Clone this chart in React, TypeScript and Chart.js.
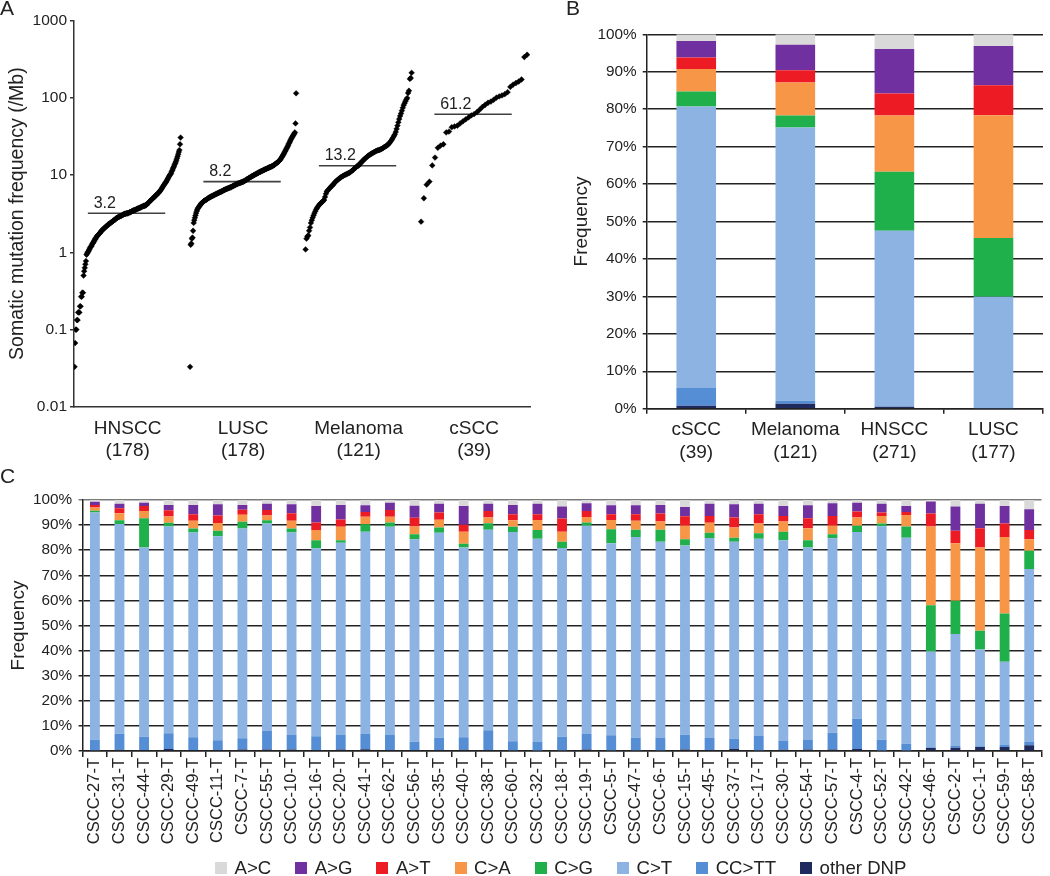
import React, { useEffect, useRef } from "react";
import { Chart, registerables } from "chart.js";

Chart.register(...registerables);

const FONT = '"Liberation Sans", Arial, Helvetica, sans-serif';
Chart.defaults.font.family = FONT;
Chart.defaults.color = "#222";

// ---------------- Panel A data ----------------
const GROUPS_A = ["HNSCC", "LUSC", "Melanoma", "cSCC"];
const COUNTS_A = ["(178)", "(178)", "(121)", "(39)"];
const MEDIANS_A = [3.2, 8.2, 13.2, 61.2];
const Y_TICKS_A = [0.01, 0.1, 1, 10, 100, 1000];

const HNSCC_FREQ = [
  0.033, 0.067, 0.1, 0.1, 0.133, 0.133, 0.167, 0.167, 0.167, 0.2,
  0.2, 0.267, 0.267, 0.3, 0.3, 0.5, 0.57, 0.63, 0.7, 0.77,
  0.93, 0.97, 1.0, 1.03, 1.07, 1.1, 1.15, 1.18, 1.2, 1.25,
  1.3, 1.33, 1.37, 1.42, 1.47, 1.5, 1.55, 1.6, 1.63, 1.67,
  1.7, 1.73, 1.77, 1.8, 1.85, 1.9, 1.93, 1.97, 2.0, 2.03,
  2.07, 2.1, 2.13, 2.17, 2.2, 2.25, 2.28, 2.3, 2.33, 2.37,
  2.4, 2.43, 2.47, 2.5, 2.53, 2.57, 2.6, 2.63, 2.67, 2.73,
  2.77, 2.8, 2.83, 2.85, 2.87, 2.9, 2.93, 2.95, 2.97, 3.0,
  3.03, 3.07, 3.1, 3.13, 3.13, 3.17, 3.17, 3.2, 3.2, 3.2,
  3.23, 3.27, 3.3, 3.3, 3.33, 3.37, 3.4, 3.43, 3.47, 3.5,
  3.5, 3.53, 3.57, 3.6, 3.63, 3.67, 3.7, 3.7, 3.73, 3.77,
  3.8, 3.83, 3.87, 3.9, 3.93, 3.97, 4.0, 4.0, 4.03, 4.07,
  4.1, 4.2, 4.27, 4.37, 4.43, 4.5, 4.6, 4.67, 4.77, 4.83,
  4.93, 5.0, 5.1, 5.17, 5.27, 5.37, 5.47, 5.57, 5.67, 5.77,
  5.87, 5.97, 6.1, 6.27, 6.43, 6.6, 6.8, 7.0, 7.2, 7.4,
  7.6, 7.8, 8.0, 8.2, 8.5, 8.8, 9.1, 9.4, 9.7, 10.0,
  10.2, 10.5, 11.0, 11.5, 12.0, 12.5, 13.0, 13.6, 14.2, 14.8,
  15.6, 16.5, 17.5, 18.6, 19.8, 21.0, 25.0, 30.5,
];

const LUSC_FREQ = [
  0.033, 1.25, 1.3, 1.5, 1.55, 1.9, 2.4, 2.6, 2.8, 3.0,
  3.2, 3.4, 3.55, 3.7, 3.8, 3.9, 4.0, 4.1, 4.2, 4.3,
  4.4, 4.45, 4.5, 4.6, 4.65, 4.7, 4.75, 4.8, 4.85, 4.9,
  5.0, 5.05, 5.1, 5.15, 5.2, 5.25, 5.3, 5.35, 5.4, 5.45,
  5.5, 5.55, 5.6, 5.65, 5.7, 5.75, 5.8, 5.85, 5.9, 5.95,
  6.0, 6.05, 6.1, 6.15, 6.2, 6.3, 6.35, 6.4, 6.45, 6.5,
  6.55, 6.6, 6.65, 6.7, 6.75, 6.8, 6.85, 6.9, 6.95, 7.0,
  7.1, 7.15, 7.2, 7.3, 7.35, 7.4, 7.5, 7.55, 7.6, 7.7,
  7.75, 7.8, 7.85, 7.9, 7.95, 8.0, 8.05, 8.1, 8.2, 8.2,
  8.3, 8.4, 8.5, 8.6, 8.7, 8.8, 8.9, 9.0, 9.1, 9.2,
  9.3, 9.4, 9.5, 9.6, 9.7, 9.8, 9.9, 10.0, 10.1, 10.2,
  10.3, 10.4, 10.5, 10.6, 10.7, 10.8, 10.9, 11.0, 11.1, 11.2,
  11.3, 11.4, 11.5, 11.6, 11.7, 11.8, 11.9, 12.0, 12.1, 12.2,
  12.3, 12.4, 12.5, 12.6, 12.7, 12.8, 12.9, 13.0, 13.1, 13.3,
  13.4, 13.6, 13.8, 14.0, 14.2, 14.4, 14.6, 14.8, 15.0, 15.3,
  15.6, 16.0, 16.5, 17.0, 17.5, 18.0, 18.6, 19.2, 19.8, 20.5,
  21.2, 22.0, 22.8, 23.6, 24.5, 25.5, 26.5, 27.5, 28.5, 29.5,
  30.5, 31.5, 32.5, 33.5, 34.5, 35.5, 46.5, 114,
];

const MELANOMA_FREQ = [
  1.09, 1.5, 1.6, 1.65, 1.9, 2.1, 2.4, 2.6, 2.8, 3.0,
  3.2, 3.4, 3.6, 3.75, 3.9, 4.05, 4.2, 4.3, 4.4, 4.5,
  4.65, 4.75, 5.2, 5.7, 6.1, 6.3, 6.5, 6.7, 6.9, 7.1,
  7.3, 7.45, 7.7, 8.0, 8.2, 8.4, 8.6, 8.8, 9.0, 9.2,
  9.35, 9.5, 9.65, 9.8, 9.95, 10.1, 10.2, 10.35, 10.5, 10.6,
  10.75, 11.0, 11.2, 11.5, 11.7, 12.0, 12.3, 12.6, 12.9, 13.1,
  13.2, 13.8, 14.2, 14.6, 15.0, 15.4, 15.8, 16.2, 16.6, 17.0,
  17.4, 17.8, 18.1, 18.4, 18.7, 19.0, 19.3, 19.6, 19.9, 20.2,
  20.5, 20.7, 20.9, 21.0, 21.2, 21.5, 21.8, 22.1, 22.5, 22.9,
  23.3, 23.7, 24.1, 24.5, 25.2, 26.0, 27.0, 28.0, 29.2, 30.5,
  32.0, 33.5, 36.0, 39.5, 43.5, 48.0, 53.0, 58.0, 62.5, 68.0,
  74.0, 80.0, 85.0, 90.0, 95.0, 99.0, 115, 123, 175, 180,
  210,
];

const CSCC_FREQ = [
  2.49, 5.0, 7.5, 8.2, 13.3, 16.8, 22.5, 24.0, 25.0, 35.5,
  36.5, 41.5, 42.5, 43.5, 46.5, 49.5, 52.5, 55.5, 59.0, 61.2,
  65.0, 70.0, 76.0, 81.0, 86.0, 89.0, 94.0, 100, 104, 107,
  111, 118, 138, 148, 155, 162, 172, 335, 360,
];

// ---------------- Mutation classes ----------------
const CLASS_NAMES = ["A>C", "A>G", "A>T", "C>A", "C>G", "C>T", "CC>TT", "other DNP"];
const CLASS_COLORS = ["#d9d9d9", "#7030a0", "#ed1c24", "#f79646", "#1fb04c", "#8db3e2", "#558ed5", "#1f2a5e"];

// ---------------- Panel B data ----------------
const CATS_B = ["cSCC", "Melanoma", "HNSCC", "LUSC"];
const COUNTS_B = ["(39)", "(121)", "(271)", "(177)"];
const B_AC = [1.8, 2.8, 3.9, 3.1];
const B_AG = [4.4, 6.8, 11.9, 10.5];
const B_AT = [3.1, 3.3, 5.9, 8.0];
const B_CA = [6.0, 8.8, 15.0, 32.8];
const B_CG = [4.0, 3.2, 15.8, 15.7];
const B_CT = [75.2, 73.0, 46.9, 29.7];
const B_CCTT = [4.7, 0.8, 0.1, 0.1];
const B_DNP = [0.8, 1.3, 0.5, 0.1];

// ---------------- Panel C data ----------------
const SAMPLES_C = [
  "CSCC-27-T", "CSCC-31-T", "CSCC-44-T", "CSCC-29-T", "CSCC-49-T", "CSCC-11-T", "CSCC-7-T", "CSCC-55-T",
  "CSCC-10-T", "CSCC-16-T", "CSCC-20-T", "CSCC-41-T", "CSCC-62-T", "CSCC-56-T", "CSCC-35-T", "CSCC-40-T",
  "CSCC-38-T", "CSCC-60-T", "CSCC-32-T", "CSCC-18-T", "CSCC-19-T", "CSCC-5-T", "CSCC-47-T", "CSCC-6-T",
  "CSCC-15-T", "CSCC-45-T", "CSCC-37-T", "CSCC-17-T", "CSCC-30-T", "CSCC-54-T", "CSCC-57-T", "CSCC-4-T",
  "CSCC-52-T", "CSCC-42-T", "CSCC-46-T", "CSCC-2-T", "CSCC-1-T", "CSCC-59-T", "CSCC-58-T",
];
const C_DNP = [0.3, 0.5, 0.4, 0.8, 0.4, 0.4, 0.6, 0.6, 0.6, 0.4, 0.6, 0.7, 0.4, 0.4, 0.4, 0.5, 0.4, 0.3, 0.2, 0.3, 0.6, 0.3, 0.3, 0.3, 0.6, 0.4, 0.9, 0.3, 0.5, 0.6, 0.6, 0.8, 0.2, 0.2, 1.2, 1.3, 1.6, 1.6, 2.3];
const C_CCTT = [4.2, 6.4, 5.3, 6.3, 5.1, 3.9, 4.5, 7.4, 5.8, 5.5, 5.8, 6.3, 6.0, 3.3, 4.9, 5.0, 7.9, 3.6, 3.4, 5.4, 6.2, 6.0, 5.0, 4.9, 5.9, 4.8, 4.0, 5.9, 3.7, 4.0, 6.7, 12.0, 4.3, 2.7, 0.3, 0.7, 0.3, 1.0, 1.3];
const C_CT = [90.5, 83.5, 75.4, 82.3, 81.6, 81.3, 83.5, 82.6, 80.7, 74.9, 76.6, 80.4, 82.9, 80.7, 81.7, 75.6, 79.8, 83.4, 81.0, 75.2, 82.9, 76.5, 80.0, 78.2, 75.4, 79.7, 78.5, 78.4, 79.8, 76.5, 77.5, 74.5, 85.0, 82.1, 38.1, 44.6, 38.5, 33.0, 68.9];
const C_CG = [0.7, 1.5, 11.6, 1.5, 1.5, 2.1, 2.7, 1.3, 1.5, 3.2, 1.0, 2.9, 1.7, 2.0, 2.0, 1.5, 2.6, 2.0, 3.4, 2.5, 1.3, 5.5, 2.8, 4.7, 2.5, 2.1, 1.6, 2.2, 3.4, 2.9, 1.6, 2.4, 1.1, 4.4, 18.5, 13.3, 7.5, 19.2, 7.3];
const C_CA = [1.3, 2.8, 2.9, 2.5, 3.1, 3.1, 2.8, 1.9, 3.1, 4.0, 5.3, 3.0, 2.3, 3.0, 3.1, 4.8, 2.3, 2.6, 4.0, 4.0, 2.2, 3.7, 3.6, 3.3, 5.3, 3.9, 4.0, 3.8, 4.0, 4.7, 3.3, 3.3, 3.0, 4.6, 31.3, 22.9, 33.2, 30.5, 4.6];
const C_AT = [1.0, 2.0, 2.0, 2.5, 2.6, 3.0, 2.0, 2.2, 3.0, 3.0, 2.9, 1.9, 2.7, 3.5, 2.9, 2.7, 2.6, 2.4, 2.3, 5.2, 2.4, 2.3, 2.6, 3.2, 3.8, 2.7, 4.0, 3.7, 2.2, 4.0, 3.9, 2.4, 1.4, 1.2, 5.2, 4.9, 7.6, 5.3, 3.6];
const C_AG = [1.3, 1.8, 1.3, 2.1, 3.7, 4.5, 1.9, 2.5, 3.6, 6.6, 5.8, 2.7, 2.9, 4.8, 3.5, 7.5, 2.9, 3.7, 4.2, 4.8, 3.1, 3.6, 3.6, 3.4, 3.7, 4.9, 5.3, 4.2, 4.0, 5.2, 5.1, 3.5, 3.5, 2.4, 4.8, 9.7, 9.8, 7.0, 8.3];
const C_AC = [0.7, 1.5, 1.1, 2.0, 2.0, 1.7, 2.0, 1.5, 1.7, 2.4, 2.0, 2.1, 1.1, 2.3, 1.5, 2.4, 1.5, 2.0, 1.5, 2.6, 1.3, 2.1, 2.1, 2.0, 2.8, 1.5, 1.7, 1.5, 2.4, 2.1, 1.3, 1.1, 1.5, 2.4, 0.6, 2.6, 1.5, 2.4, 3.7];

// stacked bottom-to-top: other DNP, CC>TT, C>T, C>G, C>A, A>T, A>G, A>C
function stackDatasets(series: number[][]) {
  const idx = [7, 6, 5, 4, 3, 2, 1, 0];
  return idx.map((k) => ({
    label: CLASS_NAMES[k],
    data: series[k],
    backgroundColor: CLASS_COLORS[k],
    borderWidth: 0,
    barPercentage: 0.4,
    categoryPercentage: 1.0,
  }));
}

const GRID_DARK = "#222";

function makeA(): any {
  const series = [HNSCC_FREQ, LUSC_FREQ, MELANOMA_FREQ, CSCC_FREQ];
  const xOf = (g: number, i: number, n: number) => g + 0.005 + 0.918 * (i / (n - 1));
  const medianLabels = {
    id: "medianLabels",
    afterDatasetsDraw(chart: any) {
      const { ctx, scales } = chart;
      ctx.save();
      ctx.font = `16px ${FONT}`;
      ctx.fillStyle = "#222";
      ctx.textAlign = "left";
      ctx.textBaseline = "alphabetic";
      MEDIANS_A.forEach((m, g) => {
        ctx.fillText(String(m), scales.x.getPixelForValue(g + 0.17), scales.y.getPixelForValue(m) - 5.5);
      });
      ctx.restore();
    },
  };
  return {
    type: "scatter",
    data: {
      datasets: [
        ...series.map((vals, g) => ({
          label: GROUPS_A[g],
          data: vals.map((v, i) => ({ x: xOf(g, i, vals.length), y: v })),
          pointStyle: "rectRot",
          pointRadius: 2.9,
          pointBackgroundColor: "#000",
          pointBorderColor: "#000",
          pointBorderWidth: 0.4,
          showLine: false,
        })),
        ...MEDIANS_A.map((m, g) => ({
          type: "line",
          label: "median " + GROUPS_A[g],
          data: [
            { x: g + 0.12, y: m },
            { x: g + 0.79, y: m },
          ],
          borderColor: "#404040",
          borderWidth: 1.6,
          pointRadius: 0,
          showLine: true,
          fill: false,
        })),
      ],
    },
    options: {
      animation: false,
      responsive: false,
      devicePixelRatio: 1,
      layout: { padding: { left: 0, right: 10, top: 20.4, bottom: 0 } },
      plugins: { legend: { display: false }, tooltip: { enabled: false } },
      scales: {
        x: {
          type: "linear",
          min: 0,
          max: 3.948,
          afterBuildTicks: (axis: any) => {
            axis.ticks = GROUPS_A.map((_, g) => ({ value: g + 0.464 }));
          },
          afterFit: (s: any) => {
            s.height = 73.1;
          },
          ticks: {
            autoSkip: false,
            maxRotation: 0,
            padding: 10,
            font: { size: 19 },
            color: "#222",
            callback: (_v: any, i: number) => [GROUPS_A[i], COUNTS_A[i]],
          },
          grid: { display: false, drawTicks: false },
          border: { display: true, color: "#333", width: 1.5 },
        },
        y: {
          type: "logarithmic",
          min: 0.01,
          max: 1000,
          afterBuildTicks: (axis: any) => {
            axis.ticks = Y_TICKS_A.map((v) => ({ value: v }));
          },
          afterFit: (s: any) => {
            s.width = 74;
          },
          ticks: {
            padding: 3,
            font: { size: 15.5 },
            color: "#222",
            callback: (v: any) => String(v),
          },
          grid: { display: true, drawOnChartArea: false, drawTicks: true, tickLength: 4, color: "#333", lineWidth: 1.5 },
          border: { display: true, color: "#333", width: 1.5 },
          title: {
            display: true,
            text: "Somatic mutation frequency (/Mb)",
            font: { size: 19.5 },
            color: "#222",
            padding: { top: 5.5, bottom: 0 },
          },
        },
      },
    },
    plugins: [medianLabels],
  };
}

function makeB(): any {
  return {
    type: "bar",
    data: {
      labels: CATS_B.map((c, i) => [c, COUNTS_B[i]]),
      datasets: stackDatasets([B_AC, B_AG, B_AT, B_CA, B_CG, B_CT, B_CCTT, B_DNP]),
    },
    options: {
      animation: false,
      responsive: false,
      devicePixelRatio: 1,
      layout: { padding: { left: 0, right: 7, top: 34.3, bottom: 0 } },
      plugins: { legend: { display: false }, tooltip: { enabled: false } },
      scales: {
        x: {
          stacked: true,
          afterFit: (s: any) => {
            s.height = 71.3;
          },
          ticks: { maxRotation: 0, padding: 5, font: { size: 19 }, color: "#222" },
          grid: { display: true, drawOnChartArea: false, drawTicks: true, tickLength: 5, color: GRID_DARK, lineWidth: 1.5, offset: true },
          border: { display: true, color: GRID_DARK, width: 1.5 },
        },
        y: {
          stacked: true,
          min: 0,
          max: 100,
          afterFit: (s: any) => {
            s.width = 106.7;
          },
          ticks: { stepSize: 10, padding: 6, font: { size: 15.3 }, color: "#222", callback: (v: any) => v + "%" },
          grid: { color: GRID_DARK, lineWidth: 1.5, tickLength: 4, drawTicks: true },
          border: { display: true, color: GRID_DARK, width: 1.5 },
          title: { display: true, text: "Frequency", font: { size: 19 }, color: "#222", padding: { top: 30.3, bottom: 0 } },
        },
      },
    },
  };
}

function makeC(): any {
  return {
    type: "bar",
    data: {
      labels: SAMPLES_C,
      datasets: stackDatasets([C_AC, C_AG, C_AT, C_CA, C_CG, C_CT, C_CCTT, C_DNP]),
    },
    options: {
      animation: false,
      responsive: false,
      devicePixelRatio: 1,
      layout: { padding: { left: 0, right: 0.4, top: 20, bottom: 0 } },
      plugins: { legend: { display: false }, tooltip: { enabled: false } },
      scales: {
        x: {
          stacked: true,
          afterFit: (s: any) => {
            s.height = 125;
          },
          ticks: { autoSkip: false, maxRotation: 90, minRotation: 90, padding: 1, font: { size: 16.5 }, color: "#222" },
          grid: { display: true, drawOnChartArea: false, drawTicks: true, tickLength: 6, color: GRID_DARK, lineWidth: 1.5, offset: true },
          border: { display: true, color: GRID_DARK, width: 1.5 },
        },
        y: {
          stacked: true,
          min: 0,
          max: 100,
          afterFit: (s: any) => {
            s.width = 82.6;
          },
          ticks: { stepSize: 10, padding: 6.6, font: { size: 15.3 }, color: "#222", callback: (v: any) => v + "%" },
          grid: {
            color: (ctx: any) => (ctx.tick && ctx.tick.value === 100 ? "#7a7a7a" : GRID_DARK),
            lineWidth: 1.5,
            tickLength: 4,
            drawTicks: true,
          },
          border: { display: true, color: GRID_DARK, width: 1.5 },
          title: { display: true, text: "Frequency", font: { size: 19 }, color: "#222", padding: { top: 7.6, bottom: 0 } },
        },
      },
    },
  };
}

function ChartCanvas(props: { left: number; top: number; width: number; height: number; make: () => any }) {
  const ref = useRef<HTMLCanvasElement | null>(null);
  useEffect(() => {
    if (!ref.current) return;
    const chart = new Chart(ref.current, props.make());
    return () => chart.destroy();
  }, []);
  return (
    <canvas
      ref={ref}
      width={props.width}
      height={props.height}
      style={{ position: "absolute", left: props.left, top: props.top, width: props.width, height: props.height }}
    />
  );
}

function PanelLetter(props: { text: string; left: number; top: number }) {
  return (
    <div
      style={{
        position: "absolute",
        left: props.left,
        top: props.top,
        fontSize: 21,
        lineHeight: "21px",
        fontFamily: FONT,
        color: "#222",
      }}
    >
      {props.text}
    </div>
  );
}

function Legend() {
  return (
    <div
      style={{
        position: "absolute",
        left: 215,
        top: 857,
        height: 22,
        display: "flex",
        alignItems: "center",
        fontFamily: FONT,
        fontSize: 18.6,
        color: "#222",
        whiteSpace: "nowrap",
      }}
    >
      {CLASS_NAMES.map((n, i) => (
        <div key={n} style={{ display: "flex", alignItems: "center", marginRight: i < CLASS_NAMES.length - 1 ? 24 : 0 }}>
          <span style={{ display: "inline-block", width: 12, height: 12, background: CLASS_COLORS[i], marginRight: 7.5 }} />
          <span>{n}</span>
        </div>
      ))}
    </div>
  );
}

export default function App() {
  return (
    <div
      style={{
        position: "absolute",
        left: 0,
        top: 0,
        width: 1050,
        height: 876,
        overflow: "hidden",
        background: "#fff",
      }}
    >
      <ChartCanvas left={0} top={0} width={540} height={480} make={makeA} />
      <ChartCanvas left={540} top={0} width={510} height={480} make={makeB} />
      <ChartCanvas left={0} top={480} width={1050} height={396} make={makeC} />
      <PanelLetter text="A" left={0} top={-3} />
      <PanelLetter text="B" left={566} top={-3} />
      <PanelLetter text="C" left={0} top={465} />
      <Legend />
    </div>
  );
}
